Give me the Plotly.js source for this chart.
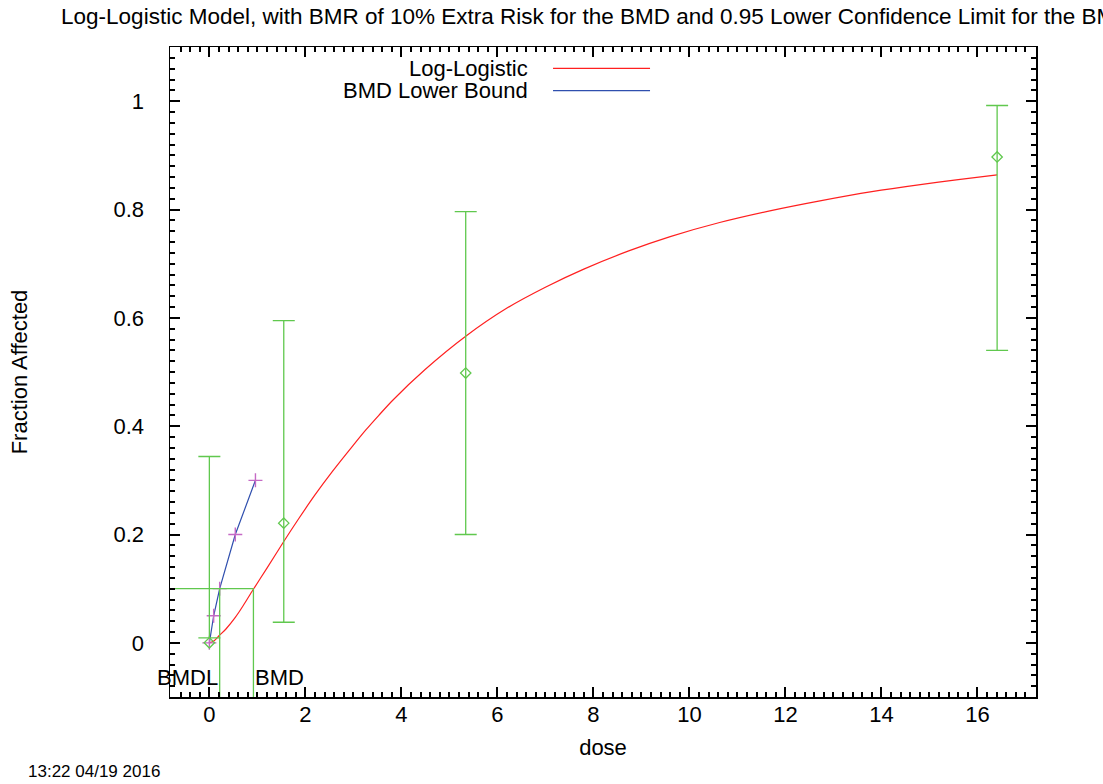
<!DOCTYPE html>
<html>
<head>
<meta charset="utf-8">
<script src="https://cdn.plot.ly/plotly-3.0.1.min.js"></script>
<style>
  html, body { margin: 0; padding: 0; background: #fff; }
  #chart { width: 1103px; height: 784px; }
</style>
</head>
<body>
<div id="chart"></div>
<script>
// Observed dose groups: fraction affected with confidence limits
const doses = [0, 1.55, 5.34, 16.41];
const fractions = [0, 0.221, 0.498, 0.897];
const ciLower = [0.009, 0.038, 0.200, 0.540];
const ciUpper = [0.344, 0.595, 0.796, 0.992];

// Fitted log-logistic curve
const curveDose = [0, 0.1, 0.2, 0.35, 0.54, 0.7, 0.91, 1.2, 1.55, 1.86, 2.2, 2.56,
  3.0, 3.26, 3.53, 3.81, 4.5, 5.34, 6.2, 7.01, 7.8, 8.75, 9.6, 10.63, 11.7,
  12.72, 13.8, 14.81, 15.6, 16.41];
const curveResp = [0, 0.004, 0.013, 0.026, 0.047, 0.068, 0.098, 0.138, 0.187, 0.229,
  0.273, 0.316, 0.365, 0.393, 0.420, 0.447, 0.505, 0.566, 0.618, 0.657, 0.690,
  0.724, 0.750, 0.776, 0.798, 0.816, 0.833, 0.846, 0.855, 0.864];

// Lower bound on dose for each risk level
const lowerDose = [0, 0.09, 0.215, 0.54, 0.96];
const lowerRisk = [0, 0.05, 0.1, 0.2, 0.3];

// Benchmark values
const bmr = 0.1;
const bmd = 0.918;
const bmdl = 0.215;

const xRange = [-0.82, 17.22];
const yRange = [-0.1, 1.1];

const green = 'rgb(96,200,78)';
const font = 'Liberation Sans, Arial, sans-serif';

const traces = [
  {
    x: curveDose, y: curveResp, mode: 'lines', type: 'scatter',
    line: {color: '#ff2020', width: 1.2, shape: 'spline', smoothing: 0.8},
    hoverinfo: 'skip'
  },
  {
    x: lowerDose, y: lowerRisk, mode: 'lines+markers', type: 'scatter',
    line: {color: '#2f4fae', width: 1.2},
    marker: {symbol: 'cross-thin-open', size: 10, line: {color: '#c56ac5', width: 1.4}, color: '#c56ac5'},
    hoverinfo: 'skip'
  },
  {
    x: [xRange[0], bmd], y: [bmr, bmr], mode: 'lines', type: 'scatter',
    line: {color: green, width: 1.3}, hoverinfo: 'skip'
  },
  {
    x: [bmdl, bmdl], y: [bmr, yRange[0]], mode: 'lines', type: 'scatter',
    line: {color: green, width: 1.3}, hoverinfo: 'skip'
  },
  {
    x: [bmd, bmd], y: [bmr, yRange[0]], mode: 'lines', type: 'scatter',
    line: {color: green, width: 1.3}, hoverinfo: 'skip'
  },
  {
    x: doses, y: fractions, mode: 'markers', type: 'scatter',
    marker: {symbol: 'diamond-open', size: 8, color: green, line: {color: green, width: 1.3}},
    error_y: {
      type: 'data', symmetric: false,
      array: fractions.map((f, i) => ciUpper[i] - f),
      arrayminus: fractions.map((f, i) => f - ciLower[i]),
      color: green, thickness: 1.3, width: 11
    },
    hoverinfo: 'skip'
  }
];

// Framed axes with inward major and minor ticks on all four sides
const axisCommon = {
  showline: true, linecolor: '#000', linewidth: 1.5, mirror: 'allticks',
  ticks: 'inside', ticklen: 10, tickwidth: 2, tickcolor: '#000',
  showgrid: false, zeroline: false,
  tickfont: {family: font, size: 22, color: '#000'}
};

// Legend drawn gnuplot style: text on the left, line sample on the right
const legendX = 0.4157;
const legendEntries = [
  {label: 'Log-Logistic', color: '#ff2020', y: 0.967},
  {label: 'BMD Lower Bound', color: '#2f4fae', y: 0.933}
];

const annotations = legendEntries.map(e => ({
  xref: 'paper', yref: 'paper', x: legendX, y: e.y,
  xanchor: 'right', yanchor: 'middle', showarrow: false,
  text: e.label, font: {family: font, size: 22, color: '#000'}
}));
annotations.push(
  {xref: 'x', yref: 'y', x: bmdl, y: -0.064, xanchor: 'right', yanchor: 'middle',
   showarrow: false, text: 'BMDL', font: {family: font, size: 22, color: '#000'}},
  {xref: 'x', yref: 'y', x: bmd, y: -0.064, xanchor: 'left', yanchor: 'middle',
   showarrow: false, text: 'BMD', font: {family: font, size: 22, color: '#000'}},
  {xref: 'paper', yref: 'paper', x: -0.166, y: -0.115, xanchor: 'left', yanchor: 'middle',
   showarrow: false, text: '13:22 04/19 2016', font: {family: font, size: 17, color: '#000'}}
);

const shapes = legendEntries.map(e => ({
  type: 'line', xref: 'paper', yref: 'paper',
  x0: 0.4423, x1: 0.5543, y0: e.y, y1: e.y,
  line: {color: e.color, width: 1.2}
}));

const layout = {
  width: 1103, height: 784,
  margin: {l: 170, r: 67, t: 47, b: 87},
  paper_bgcolor: '#fff', plot_bgcolor: '#fff',
  showlegend: false,
  title: {
    text: 'Log-Logistic Model, with BMR of 10% Extra Risk for the BMD and 0.95 Lower Confidence Limit for the BMDL',
    x: 0.4995, xref: 'paper', y: 0.979, yanchor: 'middle',
    font: {family: font, size: 22.5, color: '#000'}
  },
  xaxis: Object.assign({}, axisCommon, {
    range: xRange, tick0: 0, dtick: 2, ticklabelstandoff: -3,
    minor: {tick0: 0, dtick: 0.2, ticks: 'inside', ticklen: 5, tickwidth: 2, tickcolor: '#000', showgrid: false},
    title: {text: 'dose', standoff: 13, font: {family: font, size: 22, color: '#000'}}
  }),
  yaxis: Object.assign({}, axisCommon, {
    range: yRange, tick0: 0, dtick: 0.2, ticklabelstandoff: 20,
    minor: {tick0: 0, dtick: 0.02, ticks: 'inside', ticklen: 5, tickwidth: 2, tickcolor: '#000', showgrid: false},
    title: {text: 'Fraction Affected', standoff: 80, font: {family: font, size: 22, color: '#000'}}
  }),
  annotations: annotations,
  shapes: shapes
};

Plotly.newPlot('chart', traces, layout, {displayModeBar: false, staticPlot: true});
</script>
</body>
</html>
